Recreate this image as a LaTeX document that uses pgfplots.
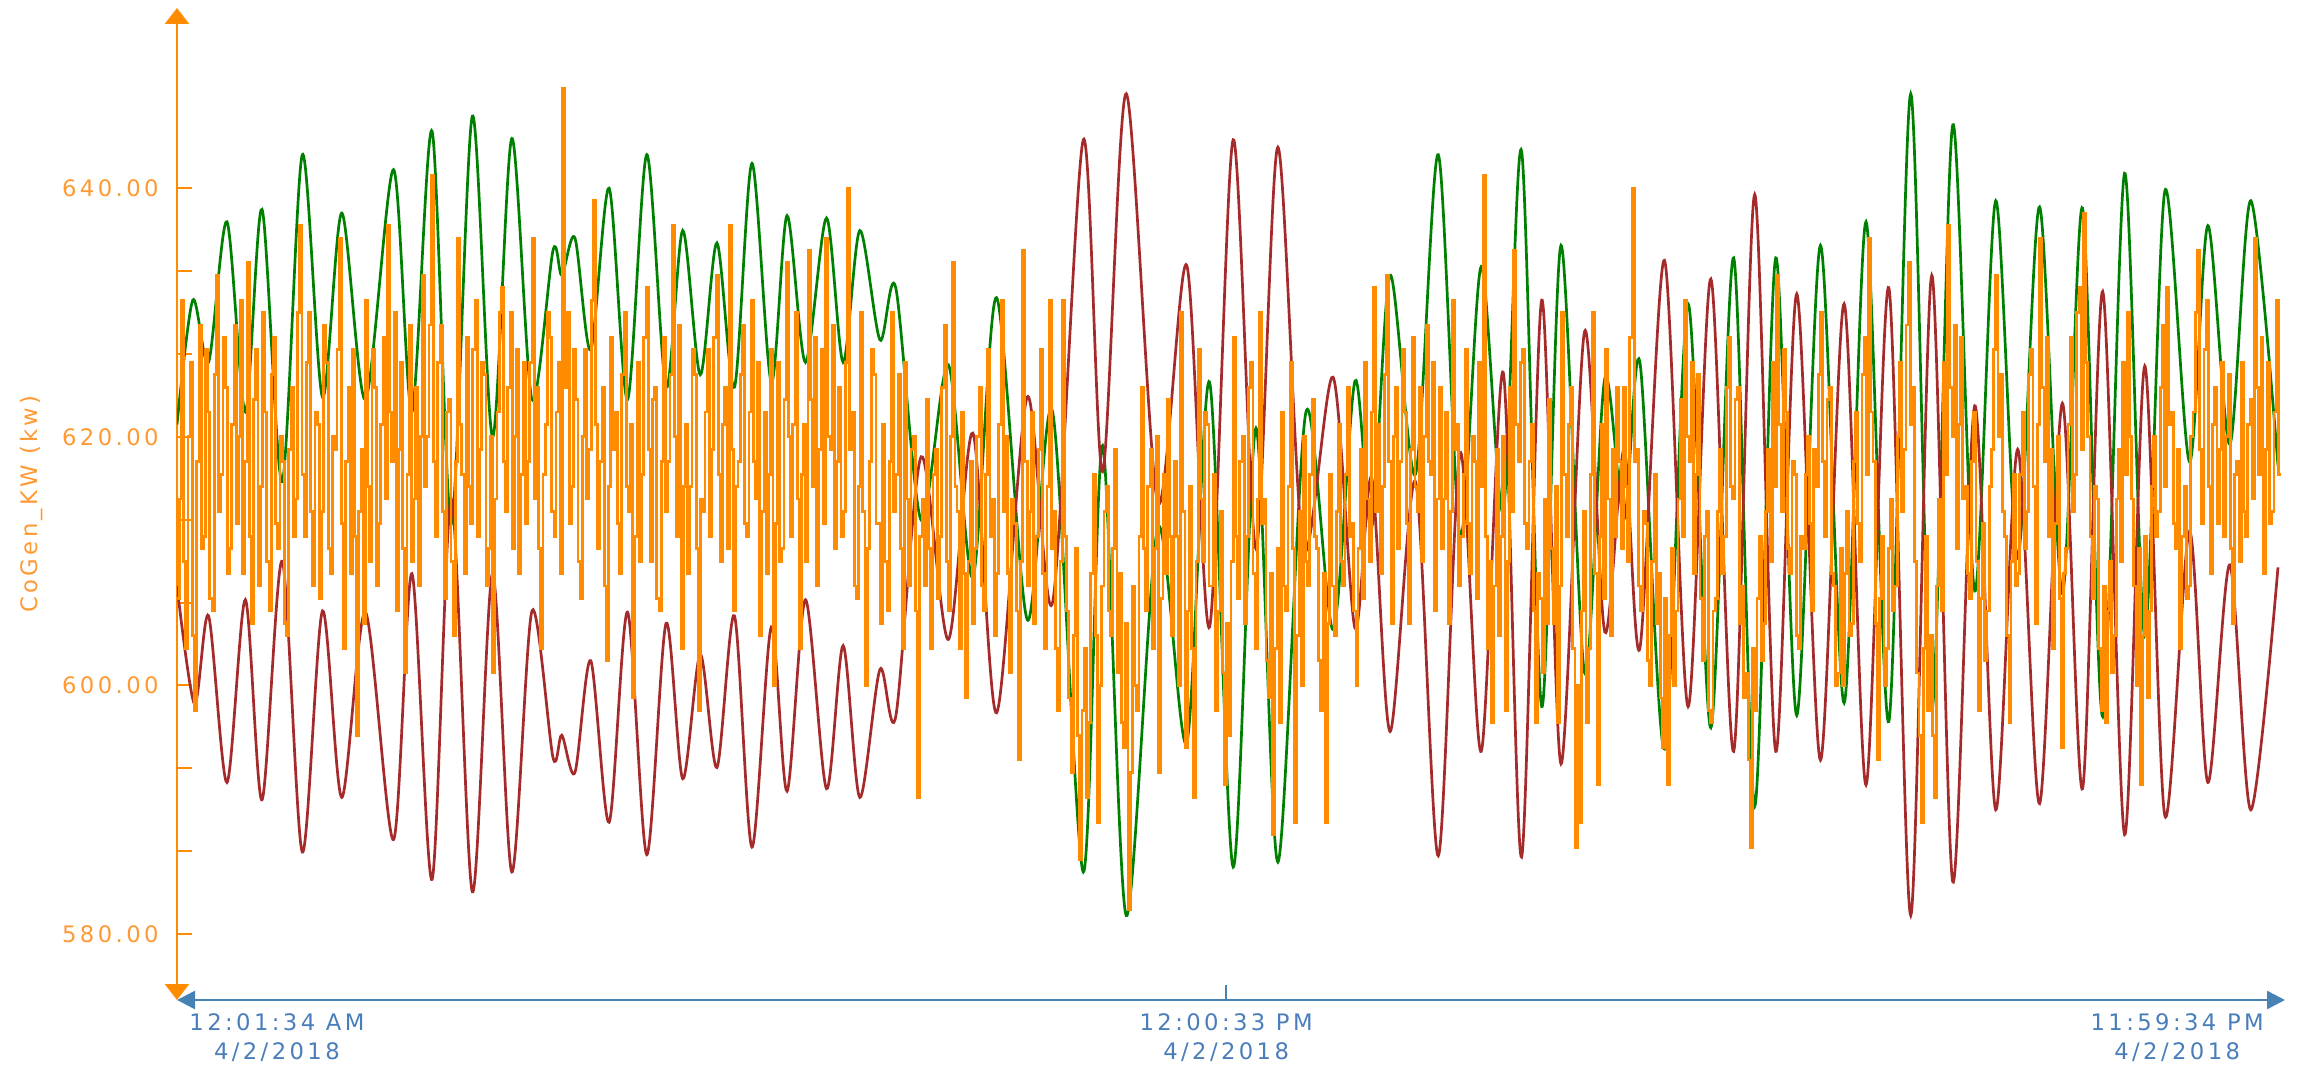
\documentclass[border=0pt]{standalone}
\usepackage{fontspec}
\setmainfont{DejaVu Sans}[LetterSpace=15]
\usepackage{pgfplots}
\pgfplotsset{compat=1.18}
\usetikzlibrary{arrows.meta}
\definecolor{cgreen}{HTML}{008000}
\definecolor{cred}{HTML}{A52A2A}
\definecolor{corange}{HTML}{FF8C00}
\definecolor{ctick}{HTML}{FF9933}
\definecolor{cblue}{HTML}{4682B4}
\definecolor{cbluetext}{HTML}{4A7EBB}
\newcommand{\lblfont}{\fontsize{11.35pt}{14.5pt}\selectfont}
\begin{document}
\begin{tikzpicture}
\useasboundingbox (0,0) rectangle (1150pt,533pt);
\begin{axis}[
  at={(88.5pt,33pt)}, anchor=south west,
  scale only axis, width=1054pt, height=496pt,
  xmin=0, xmax=24.05, ymin=574.7, ymax=654.5,
  axis x line=bottom, axis y line=left,
  x axis line style={draw=cblue, line width=1.3pt, {Triangle[width=9pt,length=9pt]}-{Triangle[width=9pt,length=9pt]}},
  y axis line style={draw=corange, line width=1.2pt, {Triangle[width=12pt,length=8pt]}-{Triangle[width=12pt,length=8pt]}},
  tick align=inside,
  ytick={580,600,620,640},
  minor y tick num=2,
  y tick style={draw=corange, line width=1pt},
  major tick length=7.5pt, minor tick length=7.5pt,
  xtick={11.97},
  x tick style={draw=cblue, line width=0.8pt},
  xticklabels={{12:00:33 PM\\4/2/2018}},
  extra x ticks={1.14,22.82},
  extra x tick labels={{12:01:34 AM\\4/2/2018},{11:59:34 PM\\4/2/2018}},
  extra x tick style={major tick length=0pt},
  xticklabel style={text=cbluetext, align=center, inner sep=0pt, yshift=-6.5pt, font=\lblfont},
  yticklabel style={text=ctick, inner sep=0pt, xshift=-9pt, font=\lblfont,
    /pgf/number format/fixed, /pgf/number format/fixed zerofill,
    /pgf/number format/precision=2, /pgf/number format/assume math mode=true},
  ylabel={CoGen\_KW (kw)},
  ylabel style={at={(rel axis cs:-0.0688,0.5)}, anchor=center, text=ctick, font=\lblfont},
]
\addplot[cgreen, line width=1.35pt, smooth, tension=0.5] coordinates {
(0.00,621) (0.18,631) (0.36,626) (0.57,637.3) (0.78,622) (0.97,638.3)
(1.20,616.4) (1.43,642.7) (1.66,623.2) (1.88,638) (2.15,623) (2.47,641.5)
(2.68,622) (2.91,644.6) (3.13,613) (3.37,645.8) (3.60,620) (3.82,644)
(4.05,623) (4.29,635) (4.39,633) (4.54,636) (4.72,627) (4.93,640)
(5.14,623) (5.36,642.7) (5.58,624) (5.77,636.6) (5.97,625) (6.16,635.6)
(6.36,624) (6.56,642) (6.78,624.4) (6.96,637.8) (7.17,626) (7.41,637.6)
(7.60,626) (7.79,636.6) (8.02,627.8) (8.20,632) (8.49,613.3) (8.80,625.8)
(9.08,608.7) (9.35,631.2) (9.70,605.3) (9.99,622) (10.34,585) (10.56,619.3)
(10.83,581.5) (11.19,612.7) (11.52,595.4) (11.78,624.4) (12.05,585.4) (12.31,620.7)
(12.56,585.8) (12.88,622) (13.19,604.5) (13.44,624.5) (13.63,612.7) (13.84,633)
(14.13,617) (14.39,642.7) (14.64,612) (14.88,633.7) (15.13,614) (15.34,643)
(15.57,598.3) (15.79,635.4) (16.06,601) (16.29,624.7) (16.51,613.4) (16.69,626)
(16.97,594.9) (17.24,630.7) (17.50,596.6) (17.76,634.4) (18.00,590.3) (18.24,634.4)
(18.48,597.6) (18.75,635.4) (19.02,598.6) (19.27,637.3) (19.53,597.1) (19.78,647.6)
(20.02,598) (20.26,645.1) (20.51,607.6) (20.75,639) (21.00,610.3) (21.25,638.5)
(21.51,607.4) (21.74,638.4) (21.97,597.5) (22.22,641.2) (22.45,604) (22.68,639.8)
(22.96,618) (23.17,637) (23.42,619.4) (23.66,639) (23.97,617.7)
};
\addplot[cred, line width=1.35pt, smooth, tension=0.5] coordinates {
(0.00,608) (0.20,598.5) (0.36,605.6) (0.57,592.2) (0.78,606.9) (0.97,590.8)
(1.20,610) (1.43,586.6) (1.66,606) (1.88,591) (2.15,605.9) (2.47,587.6)
(2.68,609) (2.91,584.4) (3.13,615) (3.37,583.4) (3.60,609) (3.82,585)
(4.05,606) (4.29,594.2) (4.39,596) (4.54,593) (4.72,602) (4.93,589)
(5.14,605.9) (5.36,586.4) (5.58,605) (5.77,592.5) (5.97,602.5) (6.16,593.4)
(6.36,605.6) (6.56,587) (6.78,604.7) (6.96,591.5) (7.17,606.9) (7.41,591.7)
(7.60,603.2) (7.79,591) (8.02,601.3) (8.20,597.5) (8.49,618.4) (8.80,603.7)
(9.08,620.3) (9.35,597.8) (9.70,623.2) (9.99,606.7) (10.34,643.9) (10.56,617.2)
(10.83,647.6) (11.19,614.7) (11.52,633.8) (11.78,604.7) (12.05,643.9) (12.31,611)
(12.56,643.3) (12.85,611) (13.19,624.8) (13.44,604.6) (13.63,616.7) (13.84,596.3)
(14.13,616.4) (14.39,586.3) (14.64,618.7) (14.88,594.7) (15.13,625.2) (15.34,586.2)
(15.57,631) (15.79,593.7) (16.06,628.5) (16.29,604.3) (16.51,619) (16.69,603)
(16.97,634.2) (17.24,598.3) (17.50,632.7) (17.76,594.7) (18.00,639.5) (18.24,594.7)
(18.48,631.5) (18.75,594) (19.02,630.7) (19.27,592) (19.53,632) (19.78,581.5)
(20.02,633) (20.26,584.2) (20.51,622.5) (20.75,590) (21.00,619) (21.25,590.5)
(21.51,622.7) (21.74,591.7) (21.97,631.7) (22.22,588) (22.45,625.7) (22.68,589.5)
(22.96,612.4) (23.17,592.2) (23.42,609.7) (23.66,590) (23.97,609.5)
};
\addplot[corange, line width=1.4pt, const plot] table[x expr=\coordindex*0.025, y index=0, header=false, row sep=\\] {
607\\615\\631\\610\\603\\620\\626\\604\\598\\618\\629\\611\\612\\627\\622\\607\\606\\625\\633\\614\\617\\628\\624\\609\\611\\621\\629\\613\\620\\631\\609\\618\\634\\612\\605\\623\\627\\608\\616\\630\\
622\\610\\606\\625\\628\\613\\611\\620\\618\\605\\604\\619\\624\\612\\615\\630\\637\\617\\612\\626\\630\\614\\608\\622\\621\\607\\614\\629\\626\\611\\609\\620\\619\\627\\636\\613\\603\\618\\624\\609\\
627\\612\\596\\614\\619\\605\\631\\616\\610\\627\\624\\608\\613\\621\\628\\615\\637\\622\\618\\630\\606\\619\\626\\611\\601\\617\\629\\610\\615\\624\\608\\620\\633\\616\\620\\629\\641\\618\\612\\626\\
629\\614\\607\\622\\623\\610\\604\\618\\636\\621\\617\\609\\628\\616\\613\\627\\631\\612\\619\\626\\625\\608\\611\\620\\601\\615\\622\\630\\632\\618\\614\\624\\630\\611\\620\\627\\609\\617\\626\\613\\
618\\626\\636\\615\\624\\611\\603\\617\\621\\630\\628\\614\\612\\622\\626\\609\\648\\624\\630\\613\\616\\627\\623\\610\\607\\620\\627\\615\\619\\631\\639\\621\\611\\618\\624\\608\\602\\616\\628\\619\\
622\\613\\609\\625\\630\\616\\614\\621\\599\\612\\626\\610\\617\\628\\632\\619\\610\\623\\624\\607\\606\\618\\628\\614\\618\\625\\637\\620\\612\\629\\603\\616\\621\\609\\616\\627\\625\\611\\598\\615\\
614\\622\\627\\612\\619\\628\\633\\617\\610\\621\\624\\611\\637\\619\\606\\616\\618\\625\\629\\613\\612\\622\\631\\618\\615\\626\\604\\614\\622\\609\\617\\627\\600\\613\\626\\610\\611\\623\\634\\620\\
612\\621\\630\\615\\603\\617\\621\\610\\635\\623\\616\\628\\608\\619\\627\\613\\636\\620\\619\\629\\611\\618\\624\\612\\614\\626\\640\\619\\622\\608\\607\\616\\630\\614\\600\\611\\618\\627\\625\\613\\
613\\605\\621\\610\\606\\618\\630\\614\\617\\625\\611\\603\\626\\615\\608\\619\\620\\606\\591\\612\\615\\608\\623\\611\\603\\617\\619\\607\\612\\624\\629\\610\\606\\620\\634\\616\\614\\603\\622\\609\\
599\\610\\618\\605\\611\\620\\624\\608\\606\\617\\627\\612\\615\\604\\609\\621\\631\\614\\620\\609\\601\\615\\613\\606\\594\\610\\635\\618\\608\\614\\622\\605\\612\\619\\627\\609\\603\\616\\631\\611\\
614\\603\\598\\610\\631\\612\\606\\599\\593\\604\\611\\596\\586\\598\\603\\591\\597\\609\\617\\604\\589\\600\\608\\614\\616\\606\\604\\611\\619\\601\\609\\597\\595\\605\\582\\593\\608\\600\\598\\612\\
624\\611\\606\\616\\619\\603\\611\\620\\593\\607\\617\\609\\623\\612\\604\\618\\612\\600\\630\\614\\595\\606\\616\\603\\591\\610\\627\\615\\610\\622\\621\\608\\608\\617\\598\\606\\614\\601\\592\\605\\
596\\610\\628\\612\\607\\618\\620\\605\\612\\624\\626\\609\\603\\615\\630\\613\\615\\602\\599\\609\\588\\603\\611\\597\\622\\608\\606\\616\\626\\611\\589\\604\\614\\600\\620\\610\\608\\617\\623\\612\\
611\\602\\598\\609\\589\\605\\617\\608\\604\\614\\621\\610\\608\\617\\624\\612\\613\\606\\600\\611\\619\\607\\626\\615\\610\\622\\632\\614\\621\\609\\616\\625\\633\\618\\605\\620\\624\\611\\618\\627\\
622\\613\\605\\619\\628\\616\\614\\624\\610\\620\\629\\618\\617\\626\\606\\615\\624\\611\\615\\622\\605\\614\\631\\619\\621\\608\\612\\617\\627\\613\\609\\620\\618\\607\\626\\616\\641\\612\\603\\610\\
597\\608\\619\\604\\612\\620\\598\\610\\624\\614\\635\\621\\618\\626\\627\\613\\611\\618\\621\\606\\597\\609\\607\\601\\615\\605\\623\\611\\605\\616\\597\\608\\630\\617\\612\\621\\624\\603\\587\\600\\
589\\606\\614\\597\\603\\617\\630\\609\\592\\612\\621\\607\\627\\615\\604\\619\\612\\624\\618\\611\\624\\616\\610\\628\\640\\618\\619\\608\\606\\614\\613\\602\\600\\610\\617\\605\\609\\599\\595\\607\\
592\\604\\611\\600\\606\\615\\623\\612\\631\\620\\618\\626\\609\\617\\625\\607\\602\\612\\614\\598\\597\\606\\607\\614\\619\\609\\612\\624\\628\\616\\615\\623\\624\\605\\608\\599\\601\\594\\587\\603\\
598\\607\\612\\602\\605\\614\\619\\610\\626\\616\\633\\621\\614\\627\\622\\611\\609\\618\\617\\604\\603\\612\\611\\617\\620\\613\\606\\619\\616\\625\\630\\618\\612\\623\\624\\609\\608\\600\\601\\611\\
600\\609\\614\\604\\605\\618\\622\\613\\610\\625\\628\\617\\636\\622\\618\\605\\594\\607\\612\\600\\603\\611\\615\\606\\608\\620\\626\\614\\619\\629\\634\\621\\624\\610\\601\\596\\589\\603\\612\\598\\
604\\596\\591\\608\\615\\606\\626\\617\\637\\624\\620\\629\\611\\621\\628\\615\\616\\609\\607\\618\\622\\610\\598\\607\\613\\602\\606\\616\\619\\627\\633\\620\\625\\614\\612\\604\\597\\610\\617\\608\\
609\\617\\622\\611\\614\\625\\627\\616\\605\\621\\636\\624\\618\\628\\612\\619\\603\\613\\620\\607\\595\\609\\611\\621\\628\\614\\617\\630\\632\\619\\638\\626\\620\\612\\607\\616\\615\\603\\598\\608\\
597\\606\\610\\601\\604\\615\\619\\610\\626\\617\\630\\620\\615\\608\\600\\611\\592\\604\\612\\599\\606\\616\\620\\612\\614\\624\\629\\616\\632\\621\\622\\613\\611\\619\\603\\612\\616\\607\\608\\620\\
622\\630\\635\\619\\613\\627\\631\\616\\609\\621\\624\\613\\619\\626\\612\\620\\625\\611\\605\\617\\618\\610\\626\\614\\612\\621\\623\\615\\636\\624\\617\\628\\609\\619\\626\\613\\614\\622\\631\\617\\
617\\
};
\end{axis}
\end{tikzpicture}
\end{document}
